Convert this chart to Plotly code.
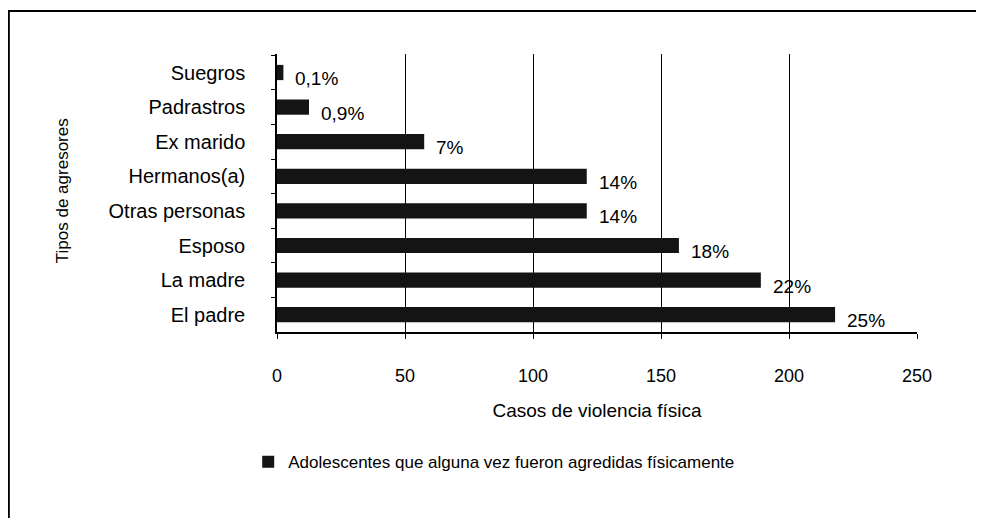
import plotly.graph_objects as go

categories = ["Suegros", "Padrastros", "Ex marido", "Hermanos(a)",
              "Otras personas", "Esposo", "La madre", "El padre"]
casos = [2.5, 12.5, 57.5, 121, 121, 157, 189, 218]
porcentajes = ["0,1%", "0,9%", "7%", "14%", "14%", "18%", "22%", "25%"]
x_ticks = [0, 50, 100, 150, 200, 250]
serie_nombre = "Adolescentes que alguna vez fueron agredidas físicamente"

FONT = "Liberation Sans, Arial, sans-serif"

fig = go.Figure()
fig.add_trace(go.Bar(
    y=categories, x=casos, orientation="h",
    marker=dict(color="#141414", line=dict(width=0)),
    name=serie_nombre, showlegend=True,
))

for c, v, p in zip(categories, casos, porcentajes):
    fig.add_annotation(x=v, y=c, text=p, showarrow=False,
                       xanchor="left", yanchor="middle", xshift=10, yshift=-6,
                       font=dict(family=FONT, size=19, color="black"))

# y-axis title as rotated annotation
fig.add_annotation(x=-0.336, y=0.51, xref="paper", yref="paper",
                   text="Tipos de agresores", textangle=-90, showarrow=False,
                   xanchor="center", yanchor="middle",
                   font=dict(family=FONT, size=17, color="black"))

# outer frame
fig.add_shape(type="rect", xref="paper", yref="paper",
              x0=-0.419, y0=1.155, x1=1.3, y1=-0.9,
              line=dict(color="black", width=2), fillcolor="rgba(0,0,0,0)")

fig.update_layout(
    width=976, height=510,
    margin=dict(l=269, r=67, t=46, b=186),
    paper_bgcolor="white", plot_bgcolor="white",
    bargap=0.56,
    font=dict(family=FONT, color="black"),
    legend=dict(orientation="h", x=-0.045, xanchor="left", y=-0.468,
                yanchor="middle", font=dict(family=FONT, size=17, color="black"),
                bgcolor="rgba(0,0,0,0)"),
    xaxis=dict(range=[0, 250], tickvals=x_ticks, ticktext=[str(t) for t in x_ticks],
               showgrid=True, gridcolor="black", gridwidth=1,
               showline=True, linecolor="black", linewidth=1.5,
               ticks="outside", ticklen=5, tickcolor="black",
               ticklabelstandoff=22,
               tickfont=dict(family=FONT, size=18, color="black"),
               title=dict(text="Casos de violencia física", standoff=18,
                          font=dict(family=FONT, size=19, color="black")),
               zeroline=False, fixedrange=True),
    yaxis=dict(autorange="reversed", showgrid=False,
               showline=True, linecolor="black", linewidth=1.5,
               ticks="outside", ticklen=4, tickcolor="black",
               tickson="boundaries", ticklabelstandoff=26,
               tickfont=dict(family=FONT, size=20, color="black"),
               fixedrange=True),
)

fig.write_html("out.html")
